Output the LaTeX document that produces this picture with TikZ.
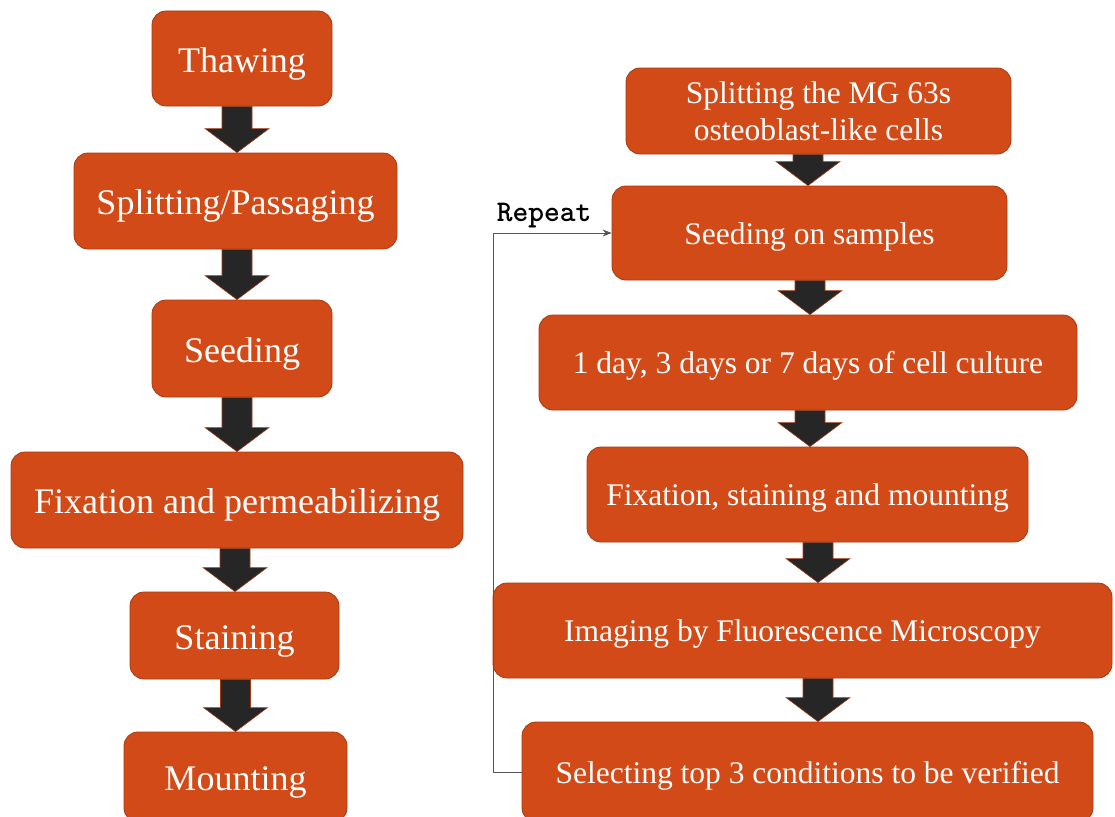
\documentclass[tikz,border=0pt]{standalone}
\usepackage{fontspec}
\setmainfont{Liberation Serif}
\usetikzlibrary{calc,arrows.meta}

\definecolor{boxorange}{HTML}{D24A17}
\definecolor{boxedge}{HTML}{A83A12}
\definecolor{arrowgray}{HTML}{262626}
\definecolor{loopgray}{HTML}{555555}

\tikzset{
  stage/.style={draw=boxedge, fill=boxorange, rounded corners=14pt, text=white,
    align=center, inner sep=0pt, line width=0.8pt},
  leftstage/.style={stage, text height=35pt, text depth=8pt, font=\fontsize{36}{40}\selectfont},
  rightstage/.style={stage, font=\fontsize{31.5}{37}\selectfont},
  oneline/.style={text height=29pt, text depth=7pt},
  loopline/.style={draw=loopgray, line width=1pt, -{Stealth[length=9pt,width=7pt]}}
}

% block arrow from one box down to the next: [x shift]{from}{to}
\newcommand{\blockarrow}[3][0]{%
  \filldraw[fill=arrowgray, draw=boxedge, line width=0.6pt]
    ($(#3.north |- #2.south)+(#1-15,0)$) -- ($(#3.north)+(#1-15,-24)$)
    -- ($(#3.north)+(#1-32,-24)$) -- ($(#3.north)+(#1,0)$)
    -- ($(#3.north)+(#1+32,-24)$) -- ($(#3.north)+(#1+15,-24)$)
    -- ($(#3.north |- #2.south)+(#1+15,0)$) -- cycle;}

\begin{document}
\begin{tikzpicture}[x=1pt, y=-1pt]
  \useasboundingbox (0,0) rectangle (1115,816);

  % left column
  \node[leftstage, minimum width=180pt, minimum height=95pt] (thaw) at (242,58.5) {Thawing};
  \node[leftstage, minimum width=323pt, minimum height=96pt] (split) at (235.5,201) {Splitting/Passaging};
  \node[leftstage, minimum width=180pt, minimum height=97pt] (seed) at (242,348.5) {Seeding};
  \node[leftstage, minimum width=452pt, minimum height=96pt] (fixperm) at (237,500) {Fixation and permeabilizing};
  \node[leftstage, minimum width=209pt, minimum height=87pt] (stain) at (234.5,635.5) {Staining};
  \node[leftstage, minimum width=223pt, minimum height=90pt] (mount) at (235.5,777) {Mounting};

  \blockarrow[1.5]{thaw}{split}
  \blockarrow[-5]{split}{seed}
  \blockarrow[0]{seed}{fixperm}
  \blockarrow[0.5]{fixperm}{stain}
  \blockarrow[0]{stain}{mount}

  % right column
  \node[rightstage, minimum width=385pt, minimum height=86pt] (mg) at (818.5,111)
    {Splitting the MG 63s\\osteoblast-like cells};
  \node[rightstage, oneline, minimum width=395pt, minimum height=94pt] (sow) at (809.5,233) {Seeding on samples};
  \node[rightstage, oneline, minimum width=538pt, minimum height=95pt] (culture) at (808,362.5)
    {1 day, 3 days or 7 days of cell culture};
  \node[rightstage, oneline, minimum width=441pt, minimum height=95pt] (fixstain) at (807.5,494.5)
    {Fixation, staining and mounting};
  \node[rightstage, oneline, minimum width=619pt, minimum height=95pt] (imaging) at (802.5,630.5)
    {Imaging by Fluorescence Microscopy};
  \node[rightstage, oneline, minimum width=571pt, minimum height=100pt] (select) at (807.5,772)
    {Selecting top 3 conditions to be verified};

  \blockarrow[-1.5]{mg}{sow}
  \blockarrow[2]{sow}{culture}
  \blockarrow[2.5]{culture}{fixstain}
  \blockarrow[15.5]{fixstain}{imaging}
  \blockarrow[10.5]{imaging}{select}

  % repeat loop
  \coordinate (turn) at ($(select.west)+(-28,0)$);
  \draw[loopline] (select.west) -- (turn) |- (sow.west);
  \node[anchor=south west, inner sep=0pt, font=\ttfamily\bfseries\fontsize{30}{34}\selectfont]
    (repeat) at ($(turn |- sow.west)+(3,-5)$) {Repeat};
\end{tikzpicture}
\end{document}
